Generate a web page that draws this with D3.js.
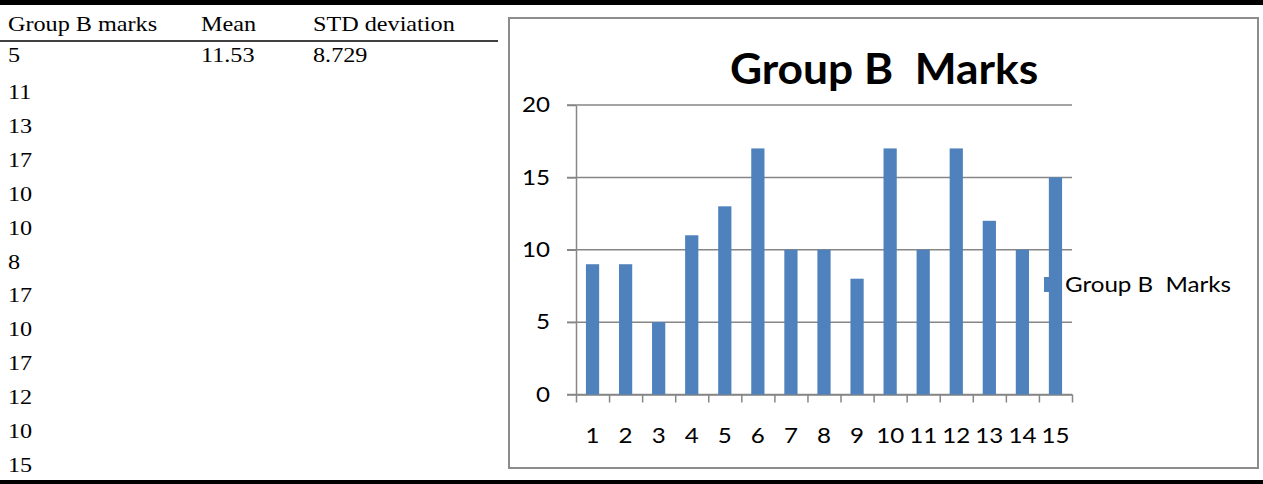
<!DOCTYPE html>
<html>
<head>
<meta charset="utf-8">
<script src="https://cdn.jsdelivr.net/npm/d3@7"></script>
<style>
  html, body { margin: 0; padding: 0; background: #fff; }
  svg text { white-space: pre; }
  .tbl { font-family: "Liberation Serif", "Times New Roman", serif; font-size: 22px; fill: #000; }
  .cal { font-family: Lato, "Open Sans", sans-serif; fill: #000; }
  .grid { stroke: #868686; stroke-width: 1.5; }
  .axis path, .axis line { stroke: #868686; stroke-width: 1.5; }
</style>
</head>
<body>
<div id="chart"></div>
<script>
// table on the left (the first two marks are cut off in the source)
var tableHeaders = ['Group B marks', 'Mean', 'STD deviation'];
var tableMarks = [5, 11, 13, 17, 10, 10, 8, 17, 10, 17, 12, 10, 15];
var meanText = '11.53';
var stdText = '8.729';

// chart data
var categories = [1, 2, 3, 4, 5, 6, 7, 8, 9, 10, 11, 12, 13, 14, 15];
var marks = [9, 9, 5, 11, 13, 17, 10, 10, 8, 17, 10, 17, 12, 10, 15];
var yTicks = [0, 5, 10, 15, 20];
var chartTitle = 'Group B  Marks';
var seriesName = 'Group B  Marks';

var width = 1263, height = 484;
// the source text is a bit wider than the fonts we have, so stretch it sideways
var tblStretch = 1.1, calStretch = 1.15, titleStretch = 1.055;

var svg = d3.select('#chart').append('svg')
    .attr('width', width)
    .attr('height', height);

// places a text at (x, y) and widens it without moving its anchor
function stretched(sel, x, y, k) {
    return sel.attr('transform', 'translate(' + x + ',' + y + ') scale(' + k + ',1)');
}

// ---- table ----
svg.append('rect').attr('x', 0).attr('y', 0).attr('width', width).attr('height', 5).attr('fill', '#000');
svg.append('rect').attr('x', 0).attr('y', 480).attr('width', width).attr('height', 4).attr('fill', '#000');
svg.append('line').attr('x1', 0).attr('x2', 498).attr('y1', 41).attr('y2', 41)
    .attr('stroke', '#000').attr('stroke-width', 1.5);

var colX = [8, 201, 313];
svg.selectAll('text.head').data(tableHeaders).enter().append('text')
    .attr('class', 'tbl head')
    .each(function(d, i) { stretched(d3.select(this), colX[i], 31, tblStretch); })
    .text(function(d) { return d; });

// row baselines: first row sits a bit closer to the rule
var rowY = function(i) { return i == 0 ? 62 : 99 + (i - 1) * 33.9; };
svg.selectAll('text.mark').data(tableMarks).enter().append('text')
    .attr('class', 'tbl mark')
    .each(function(d, i) { stretched(d3.select(this), colX[0], rowY(i), tblStretch); })
    .text(function(d) { return d; });
stretched(svg.append('text').attr('class', 'tbl'), colX[1], rowY(0), tblStretch).text(meanText);
stretched(svg.append('text').attr('class', 'tbl'), colX[2], rowY(0), tblStretch).text(stdText);

// ---- chart frame ----
svg.append('rect')
    .attr('x', 509).attr('y', 18).attr('width', 749).attr('height', 450)
    .attr('fill', '#fff').attr('stroke', '#8c8c8c').attr('stroke-width', 2);

var plot = {left: 576, right: 1072, top: 105, bottom: 394.5};

var x = d3.scaleBand().domain(categories)
    .range([plot.left, plot.right])
    .paddingInner(0.6).paddingOuter(0.3);
var xEdge = d3.scaleLinear().domain([0, categories.length]).range([plot.left, plot.right]);
var y = d3.scaleLinear().domain([0, 20]).range([plot.bottom, plot.top]);

// horizontal grid lines (they run into the y tick marks)
svg.selectAll('line.grid').data(yTicks).enter().append('line')
    .attr('class', 'grid')
    .attr('x1', plot.left - 9).attr('x2', plot.right)
    .attr('y1', function(d) { return y(d); })
    .attr('y2', function(d) { return y(d); });

// y axis
var yAxis = svg.append('g')
    .attr('class', 'axis')
    .attr('transform', 'translate(' + plot.left + ',0)')
    .call(d3.axisLeft(y).tickValues(yTicks).tickSize(9).tickSizeOuter(0).tickPadding(17));
yAxis.selectAll('text')
    .attr('class', 'cal')
    .style('font-size', '21px')
    .attr('x', -26 / calStretch)
    .attr('transform', 'scale(' + calStretch + ',1)');

// x axis: tick marks on category edges, labels under the bars
svg.append('g')
    .attr('class', 'axis')
    .attr('transform', 'translate(0,' + plot.bottom + ')')
    .call(d3.axisBottom(xEdge).tickValues(d3.range(categories.length + 1)).tickSize(8).tickSizeOuter(0).tickFormat(''));

var xAxis = svg.append('g')
    .attr('transform', 'translate(0,' + plot.bottom + ')')
    .call(d3.axisBottom(x).tickSize(0).tickPadding(34));
xAxis.select('.domain').remove();
xAxis.selectAll('text')
    .attr('class', 'cal')
    .style('font-size', '21px')
    .attr('transform', 'scale(' + calStretch + ',1)');

// legend key (sits partly behind the last bar)
svg.append('rect')
    .attr('x', 1044).attr('y', 277).attr('width', 14).attr('height', 15)
    .attr('fill', '#4F81BD');
stretched(svg.append('text'), 1065, 284, calStretch)
    .attr('class', 'cal')
    .attr('dominant-baseline', 'central')
    .style('font-size', '21px')
    .text(seriesName);

// bars
svg.selectAll('rect.bar').data(marks).enter().append('rect')
    .attr('class', 'bar')
    .attr('x', function(d, i) { return x(categories[i]); })
    .attr('y', function(d) { return y(d); })
    .attr('width', x.bandwidth())
    .attr('height', function(d) { return y(0) - y(d); })
    .attr('fill', '#4F81BD');

// title
stretched(svg.append('text'), 884, 84, titleStretch)
    .attr('class', 'cal')
    .attr('text-anchor', 'middle')
    .style('font-size', '42px')
    .style('font-weight', 'bold')
    .text(chartTitle);
</script>
</body>
</html>
